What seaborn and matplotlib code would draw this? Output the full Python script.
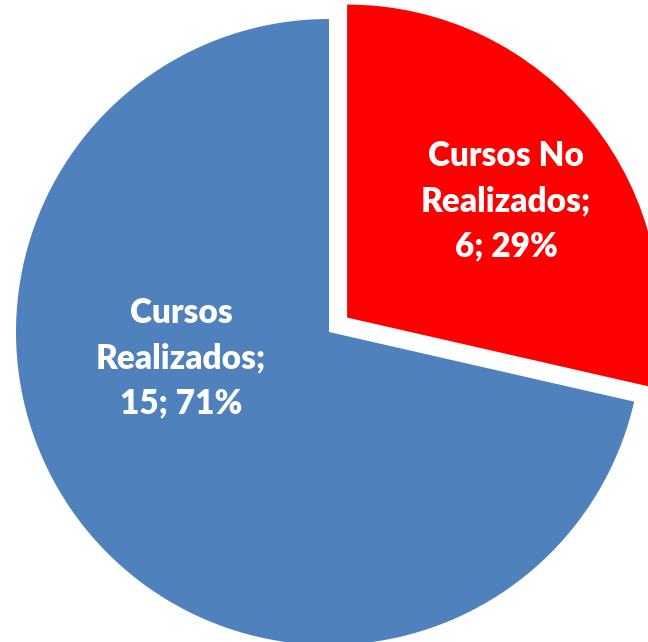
import matplotlib
matplotlib.use("Agg")
import matplotlib.pyplot as plt
import seaborn as sns

# Datos del grafico
categorias = ["Cursos No Realizados", "Cursos Realizados"]
cantidades = [6, 15]
etiquetas = ["Cursos No\nRealizados;\n6; 29%", "Cursos\nRealizados;\n15; 71%"]
colores = ["#FF0000", "#4F81BD"]

sns.set_style("white")
plt.rcParams['font.family'] = ['Lato', 'DejaVu Sans']

fig = plt.figure(figsize=(6.48, 6.42), dpi=100)
ax = fig.add_axes([0, 0, 1, 1])

# geometry in pixels: center (329, 332), radius 313
r_px = 313
cx, cy = 329, 332

ax.pie(cantidades, colors=colores, startangle=90, counterclock=False,
       explode=[0.074, 0], radius=1.0, wedgeprops=dict(linewidth=0),
       frame=True)
ax.set_xlim(-cx / r_px, (648 - cx) / r_px)
ax.set_ylim(-(642 - cy) / r_px, cy / r_px)
ax.axis('off')

# label positions (px in picture)
pos_px = [(506, 201), (181, 358)]
for txt, (px, py) in zip(etiquetas, pos_px):
    ax.text((px - cx) / r_px, (cy - py) / r_px, txt, ha='center', va='center',
            color='white', fontsize=24, fontweight='heavy', linespacing=1.5)

fig.savefig('out.png', dpi=100)
